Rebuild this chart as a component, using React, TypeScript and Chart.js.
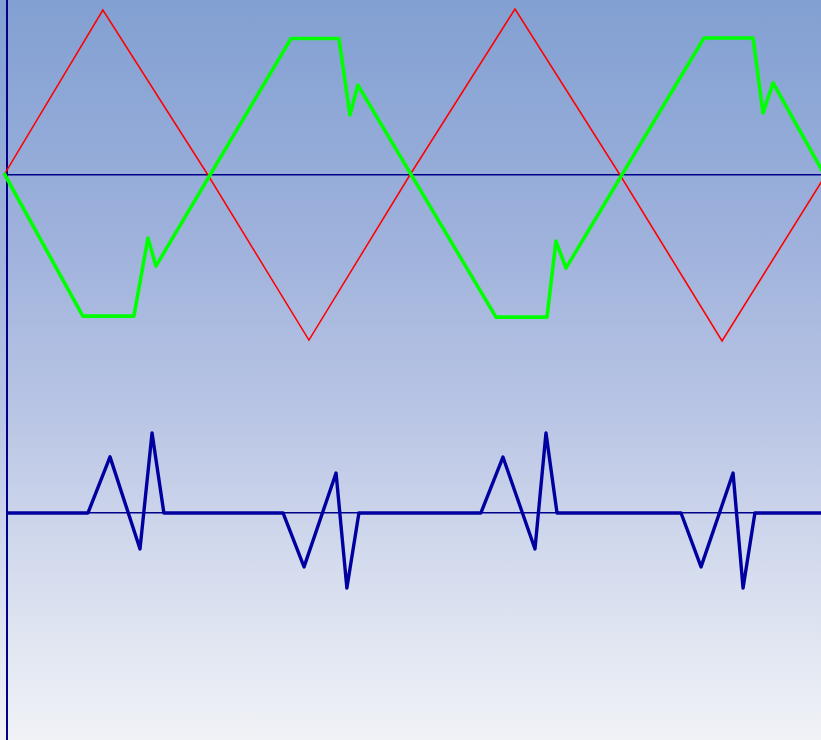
import React, { useEffect, useRef } from "react";
import { Chart, registerables } from "chart.js";

Chart.register(...registerables);

// time in ms, amplitude in arbitrary units
const redWave = [
  [0, 0.1], [4.8, 10], [9.95, 0], [14.9, -10], [19.85, 0],
  [25.0, 10.06], [30.15, 0], [35.15, -10.06], [40.23, 0],
];
const greenWave = [
  [-0.05, 0.12], [3.82, -8.55], [6.32, -8.55], [7.01, -3.82], [7.4, -5.52],
  [14.02, 8.27], [16.37, 8.27], [16.91, 3.64], [17.3, 5.45],
  [24.07, -8.61], [26.57, -8.61], [27.01, -4.0], [27.5, -5.64],
  [34.26, 8.3], [36.67, 8.3], [37.16, 3.76], [37.65, 5.58], [40.4, -0.5],
];
const blueWave = [
  [0.1, 0], [4.07, 0], [5.15, 3.4], [6.62, -2.18], [7.21, 4.85], [7.79, 0],
  [13.63, 0], [14.66, -3.27], [16.23, 2.42], [16.76, -4.55], [17.35, 0],
  [23.33, 0], [24.41, 3.39], [25.98, -2.18], [26.52, 4.85], [27.06, 0],
  [33.14, 0], [34.12, -3.27], [35.69, 2.42], [36.18, -4.55], [36.76, 0],
  [40.2, 0],
];

const xRange = [0.1, 40.0];
const topRange = [-34.24, 10.606];
const bottomRange = [-13.76, 31.09];

const toPts = (arr: number[][]) => arr.map(([x, y]) => ({ x, y }));

export default function App() {
  const ref = useRef<HTMLCanvasElement | null>(null);
  useEffect(() => {
    if (!ref.current) return;
    const zeroTick = (scale: any) => {
      scale.ticks = [{ value: 0 }];
    };
    const chart = new Chart(ref.current, {
      type: "line",
      data: {
        datasets: [
          {
            data: toPts(blueWave),
            yAxisID: "y2",
            borderColor: "#0000a0",
            borderWidth: 3.4,
            borderJoinStyle: "round",
            pointRadius: 0,
            tension: 0,
            clip: false as any,
          },
          {
            data: toPts(greenWave),
            yAxisID: "y",
            borderColor: "#00ff00",
            borderWidth: 3.6,
            borderJoinStyle: "round",
            pointRadius: 0,
            tension: 0,
            clip: false as any,
          },
          {
            data: toPts(redWave),
            yAxisID: "y",
            borderColor: "#ff0000",
            borderWidth: 1.5,
            pointRadius: 0,
            tension: 0,
            clip: false as any,
          },
        ],
      },
      options: {
        animation: false,
        responsive: true,
        maintainAspectRatio: false,
        layout: { padding: { left: 7, right: 0, top: 0, bottom: 0 } },
        plugins: { legend: { display: false }, tooltip: { enabled: false } },
        scales: {
          x: {
            type: "linear",
            min: xRange[0],
            max: xRange[1],
            display: false,
          },
          y: {
            type: "linear",
            position: "left",
            min: topRange[0],
            max: topRange[1],
            afterBuildTicks: zeroTick,
            afterFit: (s: any) => {
              s.width = 0;
            },
            ticks: { display: false },
            grid: { color: "#00008b", lineWidth: 1.5, drawTicks: false },
            border: { display: true, color: "#00008b", width: 2 },
          },
          y2: {
            type: "linear",
            position: "left",
            min: bottomRange[0],
            max: bottomRange[1],
            afterBuildTicks: zeroTick,
            afterFit: (s: any) => {
              s.width = 0;
            },
            ticks: { display: false },
            grid: { color: "#00008b", lineWidth: 1.5, drawTicks: false },
            border: { display: false },
          },
        },
      },
    });
    return () => chart.destroy();
  }, []);
  return (
    <div
      style={{
        position: "fixed",
        left: 0,
        top: 0,
        width: 821,
        height: 740,
        background:
          "linear-gradient(to bottom, #82a0d2 0%, #9cb0db 30%, #b8c4e4 55%, #d6ddee 78%, #f0f2f6 100%)",
      }}
    >
      <canvas ref={ref} />
    </div>
  );
}
